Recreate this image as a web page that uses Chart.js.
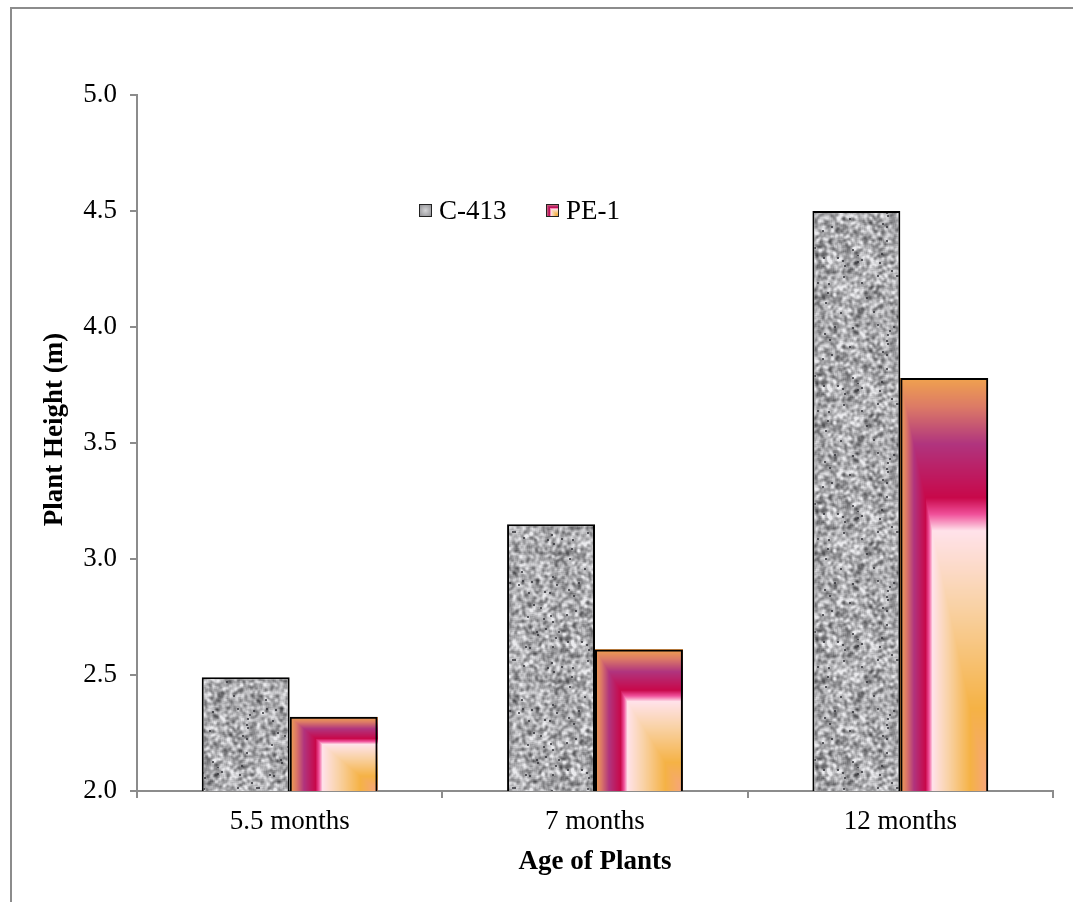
<!DOCTYPE html>
<html>
<head>
<meta charset="utf-8">
<title>Plant Height</title>
<script src="https://cdn.jsdelivr.net/npm/chart.js@4.4.1/dist/chart.umd.min.js"></script>
<style>
  html, body { margin: 0; padding: 0; background: #fff; }
  #page { position: relative; width: 1073px; height: 902px; overflow: hidden; }
  #frame { position: absolute; left: 10px; top: 7px; width: 1100px; height: 1000px;
           border-left: 2px solid #8c8c8c; border-top: 2px solid #8c8c8c; }
  #chart { position: absolute; left: 0; top: 0; }
  .legend-item { position: absolute; top: 194px; height: 32px; display: flex; align-items: center;
                 font: 27px 'Liberation Serif', 'Times New Roman', serif; color: #000; white-space: nowrap; }
  .legend-item canvas { margin-right: 7px; }
</style>
</head>
<body>
<div id="page">
  <div id="frame"></div>
  <canvas id="chart" width="1073" height="902"></canvas>
  <div class="legend-item" style="left:419px"><canvas id="boxC" width="13" height="13"></canvas>C-413</div>
  <div class="legend-item" style="left:546px"><canvas id="boxP" width="13" height="13"></canvas>PE-1</div>
</div>
<script>
// Data
const categories = ['5.5 months', '7 months', '12 months'];
const seriesNames = ['C-413', 'PE-1'];
const c413Heights = [2.49, 3.15, 4.50];
const pe1Heights = [2.32, 2.61, 3.78];
const yMin = 2.0;
const yMax = 5.0;
const yStep = 0.5;

// Granite-like grey texture for C-413
function graniteTexture(size) {
  let seed = 424242;
  const rnd = () => (seed = (seed * 16807) % 2147483647) / 2147483647;
  let n = new Float32Array(size * size);
  for (let i = 0; i < n.length; i++) n[i] = rnd();
  for (let pass = 0; pass < 2; pass++) {
    const t = new Float32Array(size * size);
    for (let y = 0; y < size; y++) {
      for (let x = 0; x < size; x++) {
        let s = 0;
        for (let dy = -1; dy <= 1; dy++)
          for (let dx = -1; dx <= 1; dx++)
            s += n[((y + dy + size) % size) * size + ((x + dx + size) % size)];
        t[y * size + x] = s / 9;
      }
    }
    n = t;
  }
  const c = document.createElement('canvas');
  c.width = size; c.height = size;
  const g = c.getContext('2d');
  const img = g.createImageData(size, size);
  for (let i = 0; i < n.length; i++) {
    let v = 170 + (n[i] - 0.5) * 430;
    v = Math.max(70, Math.min(235, v));
    img.data[i * 4] = v; img.data[i * 4 + 1] = v; img.data[i * 4 + 2] = v + 3; img.data[i * 4 + 3] = 255;
  }
  g.putImageData(img, 0, 0);
  // a few dark specks
  g.fillStyle = 'rgba(50,50,55,0.75)';
  for (let k = 0; k < size * size * 0.004; k++) {
    g.fillRect(Math.floor(rnd() * size), Math.floor(rnd() * size), 2, 2);
  }
  return c;
}

// Rectangular gradient for PE-1 (rings towards the bottom-right corner)
const peStops = [
  [0.00, '#f0a24e'], [0.07, '#dc7a66'], [0.16, '#b0347e'], [0.29, '#c8084a'],
  [0.33, '#f0509a'], [0.37, '#ffe2ea'], [0.55, '#f9d2a6'], [0.80, '#f5b245'], [1.00, '#f6a47e']
];
const hexRgb = h => [1, 3, 5].map(i => parseInt(h.substr(i, 2), 16));
const peRgb = peStops.map(s => [s[0], hexRgb(s[1])]);
function peColorAt(s) {
  for (let i = 1; i < peRgb.length; i++) {
    if (s <= peRgb[i][0]) {
      const [s0, c0] = peRgb[i - 1], [s1, c1] = peRgb[i];
      const f = (s - s0) / (s1 - s0);
      return c0.map((c, k) => c + (c1[k] - c) * f);
    }
  }
  return peRgb[peRgb.length - 1][1];
}
function cornerGradient(w, h) {
  const c = document.createElement('canvas');
  c.width = w; c.height = h;
  const g = c.getContext('2d');
  const img = g.createImageData(w, h);
  for (let y = 0; y < h; y++) {
    for (let x = 0; x < w; x++) {
      const s = Math.min((x + 0.5) / w, (y + 0.5) / h);
      const col = peColorAt(s);
      const i = (y * w + x) * 4;
      img.data[i] = col[0]; img.data[i + 1] = col[1]; img.data[i + 2] = col[2]; img.data[i + 3] = 255;
    }
  }
  g.putImageData(img, 0, 0);
  return c;
}

// Legend boxes
const boxC = document.getElementById('boxC').getContext('2d');
const rg = boxC.createRadialGradient(6.5, 6.5, 0, 6.5, 6.5, 8);
rg.addColorStop(0, '#d4d4d6'); rg.addColorStop(1, '#8e8e92');
boxC.fillStyle = rg; boxC.fillRect(0, 0, 13, 13);
boxC.strokeStyle = '#222'; boxC.strokeRect(0.5, 0.5, 12, 12);
const boxP = document.getElementById('boxP').getContext('2d');
boxP.drawImage(cornerGradient(13, 13), 0, 0);
boxP.strokeStyle = '#222'; boxP.strokeRect(0.5, 0.5, 12, 12);

// Paint PE-1 bars with the corner gradient before the library strokes their borders.
// Bars start at value 0, below the axis, so only the visible part is filled.
const peFill = {
  id: 'peFill',
  beforeDatasetDraw(chart, args) {
    if (args.index !== 1) return;
    const ctx = chart.ctx;
    const bottom = chart.chartArea.bottom;
    args.meta.data.forEach(bar => {
      const p = bar.getProps(['x', 'y', 'base', 'width'], true);
      const left = Math.round(p.x - p.width / 2);
      const top = Math.round(p.y);
      const w = Math.round(p.x + p.width / 2) - left;
      const h = Math.round(Math.min(p.base, bottom)) - top;
      if (w > 0 && h > 0) ctx.drawImage(cornerGradient(w, h), left, top);
    });
  }
};

const canvas = document.getElementById('chart');
const granite = canvas.getContext('2d').createPattern(graniteTexture(128), 'repeat');

Chart.defaults.font.family = "'Liberation Serif', 'Times New Roman', serif";
Chart.defaults.font.size = 27;
Chart.defaults.color = '#000';

const axisGrey = '#8c8c8c';

new Chart(canvas, {
  type: 'bar',
  data: {
    labels: categories,
    datasets: [
      { label: seriesNames[0], data: c413Heights, backgroundColor: granite,
        borderColor: '#000', borderWidth: 2 },
      { label: seriesNames[1], data: pe1Heights, backgroundColor: 'rgba(0,0,0,0)',
        borderColor: '#000', borderWidth: 2 }
    ]
  },
  options: {
    responsive: false,
    animation: false,
    devicePixelRatio: 1,
    categoryPercentage: 0.576,
    barPercentage: 1,
    layout: { padding: { left: 0, top: 95, right: 20, bottom: 0 } },
    plugins: {
      legend: { display: false },
      tooltip: { enabled: false }
    },
    scales: {
      x: {
        afterFit: s => { s.height = 111; },
        grid: { display: true, drawOnChartArea: false, drawTicks: true, tickLength: 7,
                color: axisGrey, lineWidth: 2, offset: true },
        border: { display: true, color: axisGrey, width: 2 },
        ticks: { padding: 8, maxRotation: 0 },
        title: { display: true, text: 'Age of Plants', font: { weight: 'bold', size: 27 },
                 padding: { top: 0, bottom: 24 } }
      },
      y: {
        min: yMin,
        max: yMax,
        afterFit: s => { s.width = 137; },
        grid: { display: true, drawOnChartArea: false, drawTicks: true, tickLength: 7,
                color: axisGrey, lineWidth: 2 },
        border: { display: true, color: axisGrey, width: 2 },
        ticks: { stepSize: yStep, padding: 13, callback: v => v.toFixed(1) },
        // leading spaces lift the rotated title a little above the plot centre
        title: { display: true, text: '\u00a0\u00a0\u00a0\u00a0Plant Height (m)',
                 font: { weight: 'bold', size: 27 }, padding: { top: 39, bottom: 0 } }
      }
    }
  },
  plugins: [peFill]
});
</script>
</body>
</html>
